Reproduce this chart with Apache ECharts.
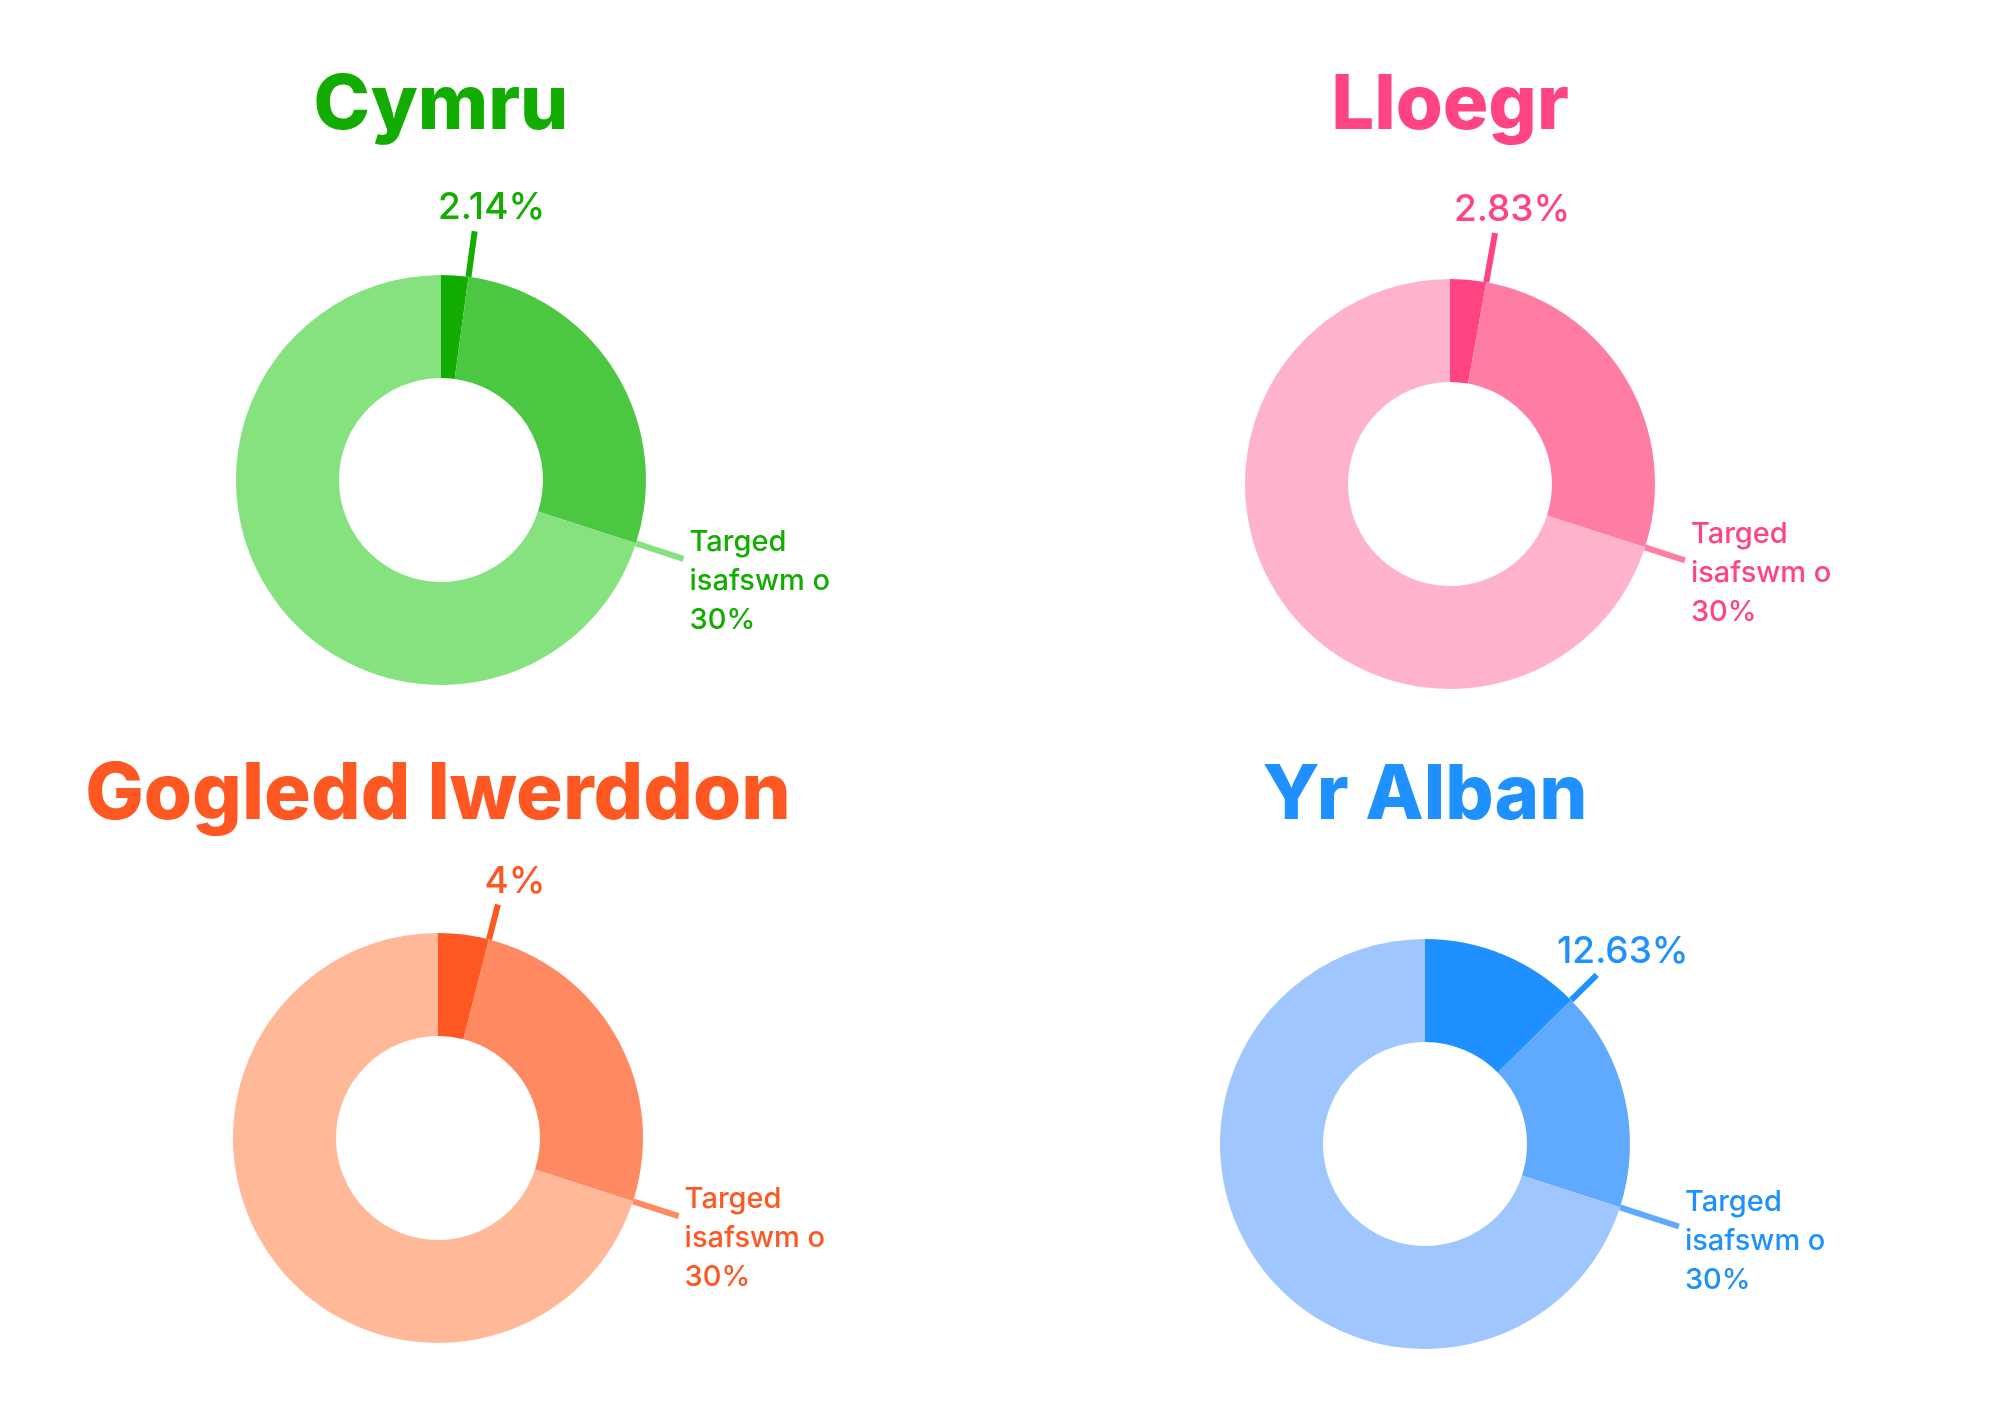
<!DOCTYPE html>
<html>
<head>
<meta charset="utf-8">
<title>Targed isafswm o 30%</title>
<script src="https://cdn.jsdelivr.net/npm/echarts@6/dist/echarts.min.js"></script>
<style>
    html, body { margin: 0; padding: 0; background: #ffffff; }
    #chart { width: 2000px; height: 1414px; }
</style>
</head>
<body>
<div id="chart"></div>
<script>
// data
const regions = ['Cymru', 'Lloegr', 'Gogledd Iwerddon', 'Yr Alban'];
const actualShare = [2.14, 2.83, 4, 12.63];
const targetShare = [30, 30, 30, 30];
const targetText = 'Targed\nisafswm o\n30%';

// colours: dark (actual), mid (gap to target), light (rest)
const darkColors = ['#12ad00', '#ff4481', '#ff5722', '#1e90ff'];
const midColors = ['#4bc741', '#ff7ca3', '#ff8960', '#5fa9ff'];
const lightColors = ['#86e27f', '#ffb3ca', '#ffb898', '#9fc6ff'];
const targetLineColors = ['#86e27f', '#ff7ca3', '#ff8960', '#5fa9ff'];

// layout
const centers = [[441, 480], [1450, 484], [438, 1138], [1425, 1144]];
const titleTops = [66, 66, 756, 756];
const titleSizes = [76, 76, 78, 76];
const valueLineLengths = [46, 50, 36, 36];
const valueTextDx = [17, 17, 17, 26];
const targetLineLengths = [50, 42, 48, 62];
const targetTextDy = [-36, -46, -36, -44];
const outerR = 205;
const innerR = 102;
const fontFamily = 'Inter, "Noto Sans", sans-serif';

const chart = echarts.init(document.getElementById('chart'), null, {renderer: 'canvas'});

function buildSeries(i) {
    const dark = darkColors[i];
    const data = [
        {name: 'actual', value: actualShare[i], itemStyle: {color: dark}},
        {
            name: 'actualMark', value: 0,
            label: {show: true, formatter: actualShare[i] + '%', fontSize: 37, lineHeight: 40},
            labelLine: {show: true, length: valueLineLengths[i], length2: 0, lineStyle: {color: dark, width: 6}},
        },
        {name: 'gap', value: targetShare[i] - actualShare[i], itemStyle: {color: midColors[i]}},
        {
            name: 'targetMark', value: 0,
            label: {show: true, formatter: targetText, fontSize: 29, lineHeight: 39},
            labelLine: {show: true, length: targetLineLengths[i], length2: 0, lineStyle: {color: targetLineColors[i], width: 6}},
        },
        {name: 'rest', value: 100 - targetShare[i], itemStyle: {color: lightColors[i]}},
    ];
    return {
        type: 'pie',
        center: centers[i],
        radius: [innerR, outerR],
        startAngle: 90,
        clockwise: true,
        avoidLabelOverlap: false,
        silent: true,
        itemStyle: {borderWidth: 0},
        label: {
            show: false,
            position: 'outside',
            color: dark,
            fontFamily: fontFamily,
            fontWeight: 500,
        },
        labelLine: {show: false},
        emphasis: {disabled: true},
        labelLayout: function (params) {
            const pts = params.labelLinePoints;
            if (!pts) {
                return {};
            }
            const end = pts[pts.length - 1];
            if (params.dataIndex === 1) {
                return {x: end[0] + valueTextDx[i], y: end[1] - 3, align: 'center', verticalAlign: 'bottom', labelLinePoints: pts};
            }
            return {x: end[0] + 6, y: end[1] + targetTextDy[i], align: 'left', verticalAlign: 'top', labelLinePoints: pts};
        },
        data: data,
    };
}

const option = {
    backgroundColor: '#ffffff',
    animation: false,
    title: regions.map((name, i) => ({
        text: name,
        left: centers[i][0],
        top: titleTops[i],
        textAlign: 'center',
        padding: 0,
        textStyle: {
            color: darkColors[i],
            fontFamily: fontFamily,
            fontWeight: 800,
            fontSize: titleSizes[i],
            lineHeight: 80,
        },
    })),
    series: regions.map((name, i) => buildSeries(i)),
};

chart.setOption(option);
</script>
</body>
</html>
